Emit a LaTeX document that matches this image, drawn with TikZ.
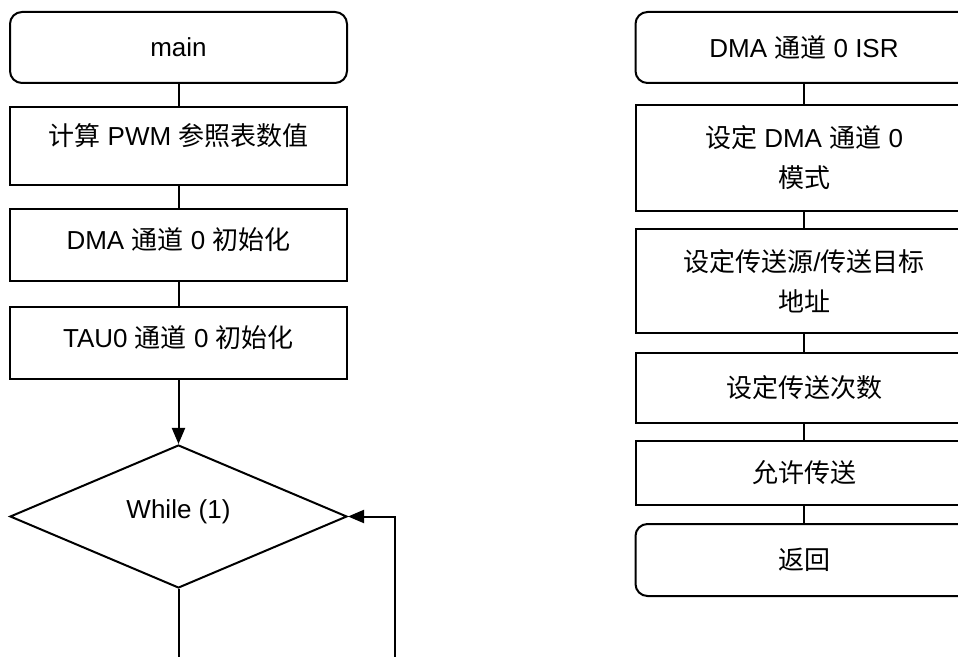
\documentclass[tikz,border=0pt]{standalone}
\usepackage{fontspec}
\setmainfont{Liberation Sans}
\newfontfamily\cjk{Noto Sans CJK SC}
\usetikzlibrary{arrows.meta}
\usetikzlibrary{shapes.geometric}
\tikzset{term/.style = {draw, rounded corners=6pt, minimum width=168.5pt, align=center},
         proc/.style = {draw, minimum width=168.5pt, align=center},
         cond/.style = {draw, diamond, aspect=2.4, inner sep=0pt,
                        minimum width=168.5pt, minimum height=71.5pt},
         flow/.style = {-{Triangle[length=8pt,width=6.5pt]}}}

\begin{document}
\begin{tikzpicture}[x=0.5pt, y=-0.5pt, line width=1pt, font=\fontsize{13}{20}\selectfont]
  \clip (0,0) rectangle (958,657);

  \node[term, minimum height=35.5pt] (main) at (178.5,47.5) {main};
  \node[proc, minimum height=39pt, text height=6pt, text depth=6pt] (calc) at (178.5,146)
    {{\cjk 计算} PWM {\cjk 参照表数值}};
  \node[proc, minimum height=36pt, text height=8pt, text depth=3.2pt] (dmainit) at (178.5,245)
    {DMA {\cjk 通道} 0 {\cjk 初始化}};
  \node[proc, minimum height=36pt, text height=8pt, text depth=3.2pt] (tauinit) at (178.5,343)
    {TAU0 {\cjk 通道} 0 {\cjk 初始化}};
  \node[cond, text height=5pt, text depth=3.2pt] (loop) at (178.5,516.5) {While (1)};
  \coordinate (exit) at (178.5,680);
  \coordinate (back) at (395,680);

  \draw (main) -- (calc);
  \draw (calc) -- (dmainit);
  \draw (dmainit) -- (tauinit);
  \draw[flow] (tauinit) -- (loop);
  \draw (loop) -- (exit);
  \draw[flow] (back) |- (loop.east);

  \node[term, minimum height=35.5pt] (isr) at (804,47.5) {DMA {\cjk 通道} 0 ISR};
  \node[proc, minimum height=53pt] (mode) at (804,158)
    {{\cjk 设定} DMA {\cjk 通道} 0\\{\cjk 模式}};
  \node[proc, minimum height=52pt] (addr) at (804,281)
    {{\cjk 设定传送源}/{\cjk 传送目标}\\{\cjk 地址}};
  \node[proc, minimum height=35pt] (count) at (804,388) {{\cjk 设定传送次数}};
  \node[proc, minimum height=32pt] (enable) at (804,473) {{\cjk 允许传送}};
  \node[term, minimum height=36pt] (ret) at (804,560) {{\cjk 返回}};

  \draw (isr) -- (mode);
  \draw (mode) -- (addr);
  \draw (addr) -- (count);
  \draw (count) -- (enable);
  \draw (enable) -- (ret);
\end{tikzpicture}
\end{document}
